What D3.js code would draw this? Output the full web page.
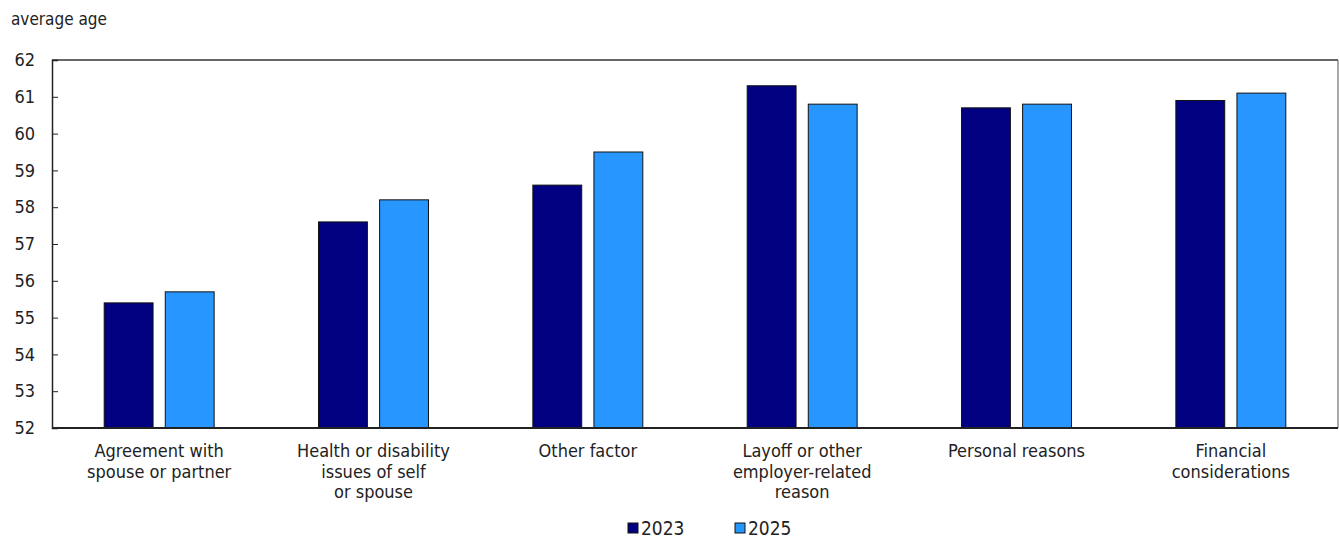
<!DOCTYPE html>
<html>
<head>
<meta charset="utf-8">
<script src="https://cdn.jsdelivr.net/npm/d3@7"></script>
<style>
  body { margin: 0; background: #fff; }
  svg text { font-family: "Liberation Sans Narrow", "Arial Narrow", "DejaVu Sans Condensed", sans-serif; fill: #222; }
</style>
</head>
<body>
<div id="chart"></div>
<script>
const categories = [
  ['Agreement with', 'spouse or partner'],
  ['Health or disability', 'issues of self', 'or spouse'],
  ['Other factor'],
  ['Layoff or other', 'employer-related', 'reason'],
  ['Personal reasons'],
  ['Financial', 'considerations']
];
const seriesNames = ['2023', '2025'];
const values2023 = [55.4, 57.6, 58.6, 61.3, 60.7, 60.9];
const values2025 = [55.7, 58.2, 59.5, 60.8, 60.8, 61.1];
const yTicks = [52, 53, 54, 55, 56, 57, 58, 59, 60, 61, 62];

const colors = ['#000080', '#2896ff'];
const width = 1339, height = 537;
const margin = { top: 60, right: 1, bottom: 109, left: 52 };
const innerW = width - margin.left - margin.right;
const innerH = height - margin.top - margin.bottom;

const svg = d3.select('#chart').append('svg').attr('width', width).attr('height', height);

const keys = categories.map((d, i) => i);
const rows = keys.map(i => ({ cat: i, vals: [values2023[i], values2025[i]] }));

const x0 = d3.scaleBand().domain(keys).range([0, innerW]).paddingInner(0.487).paddingOuter(0.2435);
const x1 = d3.scaleBand().domain([0, 1]).range([0, x0.bandwidth()]).paddingInner(0.2);
const y = d3.scaleLinear().domain([52, 62]).range([innerH, 0]);

const g = svg.append('g').attr('transform', `translate(${margin.left},${margin.top})`);

// frame top/right
g.append('line').attr('x1', 0).attr('x2', innerW).attr('y1', 0).attr('y2', 0).attr('stroke', '#333').attr('stroke-width', 1.5);
g.append('line').attr('x1', innerW).attr('x2', innerW).attr('y1', 0).attr('y2', innerH).attr('stroke', '#555').attr('stroke-width', 1);

// bars
g.selectAll('g.grp').data(rows).enter().append('g')
  .attr('class', 'grp')
  .attr('transform', d => `translate(${x0(d.cat)},0)`)
  .selectAll('rect').data(d => d.vals.map((v, s) => ({ v, s }))).enter().append('rect')
  .attr('x', d => x1(d.s))
  .attr('y', d => y(d.v))
  .attr('width', x1.bandwidth())
  .attr('height', d => innerH - y(d.v))
  .attr('fill', d => colors[d.s])
  .attr('stroke', '#111')
  .attr('stroke-width', 1);

// y axis
const yAxis = g.append('g').call(d3.axisLeft(y).tickValues(yTicks).tickSize(-6).tickPadding(17).tickFormat(d3.format('d')));
yAxis.select('.domain').attr('stroke', '#222').attr('stroke-width', 1.5);
yAxis.selectAll('.tick line').attr('stroke', '#222');
yAxis.selectAll('.tick text').attr('font-size', 18);

// x axis line
g.append('line').attr('x1', 0).attr('x2', innerW).attr('y1', innerH).attr('y2', innerH).attr('stroke', '#222').attr('stroke-width', 2);

// category labels
const lab = g.selectAll('text.cat').data(rows).enter().append('text')
  .attr('class', 'cat')
  .attr('text-anchor', 'middle')
  .attr('font-size', 18)
  .attr('x', d => x0(d.cat) + x0.bandwidth() / 2)
  .attr('y', innerH + 29);
lab.selectAll('tspan').data(d => categories[d.cat]).enter().append('tspan')
  .attr('x', function () { return d3.select(this.parentNode).attr('x'); })
  .attr('dy', (d, i) => i === 0 ? 0 : 20.5)
  .text(d => d);

// axis title
svg.append('text').attr('x', 11).attr('y', 25).attr('font-size', 17).text('average age');

// legend
const legX = [628, 735];
const leg = svg.selectAll('g.leg').data(seriesNames).enter().append('g')
  .attr('class', 'leg')
  .attr('transform', (d, i) => `translate(${legX[i]},523)`);
leg.append('rect').attr('width', 10).attr('height', 10)
  .attr('fill', (d, i) => colors[i]).attr('stroke', '#111').attr('stroke-width', 1);
leg.append('text').attr('x', 13).attr('y', 11.5).attr('font-size', 19).text(d => d);
</script>
</body>
</html>
